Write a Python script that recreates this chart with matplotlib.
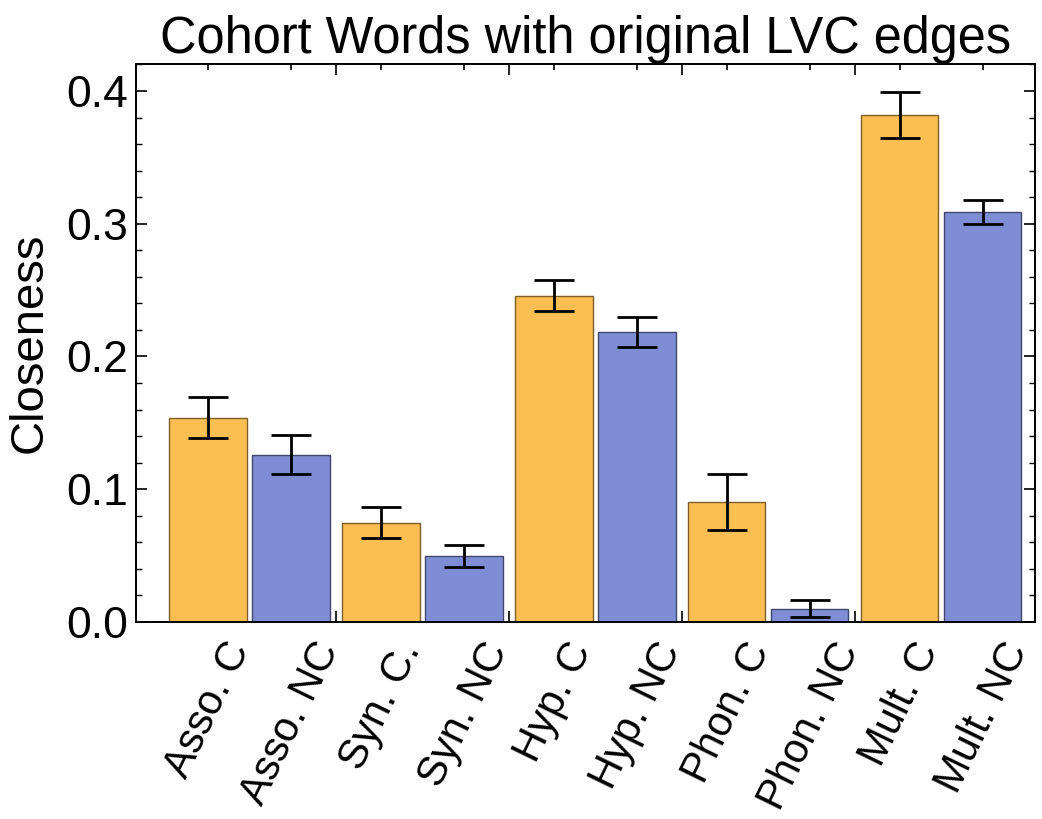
import matplotlib
matplotlib.use("Agg")
import matplotlib.pyplot as plt
import numpy as np
from matplotlib.ticker import MultipleLocator, FixedLocator

plt.rcParams['font.family'] = ['Liberation Sans', 'DejaVu Sans']

labels = ["Asso. C", "Asso. NC", "Syn. C.", "Syn. NC", "Hyp. C", "Hyp. NC",
          "Phon. C", "Phon. NC", "Mult. C", "Mult. NC"]
values = [0.154, 0.126, 0.0746, 0.0497, 0.2456, 0.2188, 0.0904, 0.0100, 0.3819, 0.3085]
errors = [0.0155, 0.0147, 0.0117, 0.0080, 0.0117, 0.0113, 0.0211, 0.0064, 0.0173, 0.0090]

orange = (0.982864, 0.7431472, 0.3262672)
blue = (0.4992, 0.5552, 0.8309304)

n_groups = 5
gap = 0.084
width = 0.93
xs = []
colors = []
for g in range(n_groups):
    for j in range(2):
        xs.append(g * (2 + gap) + j)
        colors.append(orange if j == 0 else blue)
xs = np.array(xs)
edges = [tuple(c * 0.5 for c in col) for col in colors]
seps = [(g * (2 + gap) + 1 + (g + 1) * (2 + gap)) / 2 for g in range(n_groups - 1)]

fig = plt.figure(figsize=(10.42, 8.19), dpi=100)
ax = fig.add_axes([136 / 1042, 1 - 622 / 819, (1035 - 136) / 1042, (622 - 64) / 819])

ax.bar(xs, values, width=width, color=colors, edgecolor=edges, linewidth=1.0, zorder=2)
ax.errorbar(xs, values, yerr=errors, fmt='none', ecolor='black', elinewidth=2.0,
            capsize=14.5, capthick=2.0, zorder=3)

ax.set_xlim(-0.867, 9.964)
ax.set_ylim(0, 0.4203)

ax.yaxis.set_minor_locator(MultipleLocator(0.02))
ax.set_yticks([0, 0.1, 0.2, 0.3, 0.4])
ax.set_yticklabels(["0.0", "0.1", "0.2", "0.3", "0.4"])

ax.xaxis.set_major_locator(FixedLocator(xs))
ax.set_xticklabels(labels, rotation=64, ha='center', va='top')
ax.xaxis.set_minor_locator(FixedLocator(seps))

ax.tick_params(axis='y', which='major', direction='in', length=8, width=1.2,
               labelsize=32, pad=6, right=True)
ax.tick_params(axis='y', which='minor', direction='in', length=4.5, width=1.0, right=True)
ax.tick_params(axis='x', which='major', direction='in', length=4.5, width=1.2,
               labelsize=30, pad=10, top=True)
ax.tick_params(axis='x', which='minor', direction='in', length=8, width=1.2, top=True)

for s in ax.spines.values():
    s.set_linewidth(1.4)

ax.set_ylabel("Closeness", fontsize=34, labelpad=10)
ax.set_title("Cohort Words with original LVC edges", fontsize=36.4, pad=6)

fig.savefig("out.png", dpi=100)
